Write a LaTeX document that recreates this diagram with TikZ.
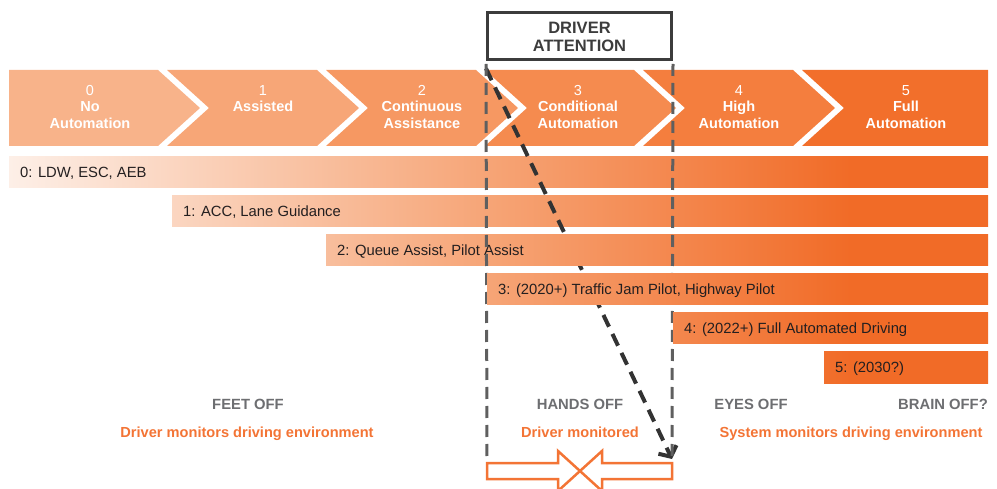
\documentclass[tikz,border=0pt]{standalone}
\usepackage{fontspec}
\setmainfont{Liberation Sans}
\usetikzlibrary{arrows.meta,positioning}

\definecolor{chevA}{HTML}{F8B38A}
\definecolor{chevB}{HTML}{F7A677}
\definecolor{chevC}{HTML}{F69862}
\definecolor{chevD}{HTML}{F58B4F}
\definecolor{chevE}{HTML}{F47E3E}
\definecolor{chevF}{HTML}{F26F2B}
\definecolor{fadeA}{HTML}{FDEFE7}
\definecolor{fadeB}{HTML}{F6A374}
\definecolor{fadeC}{HTML}{F16B27}
\definecolor{inkdark}{HTML}{231F20}
\definecolor{graytxt}{HTML}{6D6E71}
\definecolor{orangetxt}{HTML}{F37435}
\definecolor{boxgray}{HTML}{3C3C3C}
\definecolor{guidegray}{HTML}{5F5F5F}
\definecolor{sweepgray}{HTML}{333333}

\pgfdeclarehorizontalshading{barfade}{100bp}{color(0bp)=(fadeA); color(25bp)=(fadeA); color(50bp)=(fadeB); color(68bp)=(fadeC); color(100bp)=(fadeC)}

% one feature bar, shaded on the common left-to-right ramp
\newcommand{\levelbar}[4]{%
  \begin{scope}
    \clip (#2,#3) rectangle (988,#3+31);
    \shade[shading=barfade] (9,157) rectangle (988,383);
  \end{scope}
  \node[barlabel] (#1) at (#2+11,#3+21) {#4};
}

\begin{document}
\begin{tikzpicture}[
  x=1pt, y=-1pt,
  chevtext/.style={text=white, align=center, anchor=north, inner sep=0pt, font=\fontsize{14.5}{16.5}\selectfont},
  barlabel/.style={anchor=base west, inner sep=0pt, text=inkdark, font=\fontsize{14.8}{17}\selectfont},
  headline/.style={anchor=base, inner sep=0pt, text=graytxt, font=\bfseries\fontsize{14.8}{17}\selectfont},
  subline/.style={anchor=base, inner sep=0pt, text=orangetxt, font=\bfseries\fontsize{14.6}{17}\selectfont},
  guide/.style={draw=guidegray, line width=3pt, dash pattern=on 12pt off 7pt},
  sweep/.style={draw=sweepgray, line width=4pt, dash pattern=on 13pt off 8pt, -{Straight Barb[length=8pt,width=20pt]}},
  blockarrow/.style={draw=orangetxt, line width=2.5pt, fill=white, line join=miter}
]
  \clip (0,0) rectangle (997,489);

  % automation levels
  \fill[chevA] (9,70) -- (158,70) -- (200,108) -- (158,146) -- (9,146) -- cycle;
  \fill[chevB] (167,70) -- (317,70) -- (359,108) -- (317,146) -- (167,146) -- (209,108) -- cycle;
  \fill[chevC] (326,70) -- (476,70) -- (518,108) -- (476,146) -- (326,146) -- (368,108) -- cycle;
  \fill[chevD] (485,70) -- (634,70) -- (676,108) -- (634,146) -- (485,146) -- (527,108) -- cycle;
  \fill[chevE] (643,70) -- (793,70) -- (835,108) -- (793,146) -- (643,146) -- (685,108) -- cycle;
  \fill[chevF] (802,70) -- (988,70) -- (988,146) -- (802,146) -- (844,108) -- cycle;

  \node[chevtext] (lvl0) at (90,85) {0\\\textbf{No}\\\textbf{Automation}};
  \node[chevtext] (lvl1) at (263,85) {1\\\textbf{Assisted}};
  \node[chevtext] (lvl2) at (422,85) {2\\\textbf{Continuous}\\\textbf{Assistance}};
  \node[chevtext] (lvl3) at (578,85) {3\\\textbf{Conditional}\\\textbf{Automation}};
  \node[chevtext] (lvl4) at (739,85) {4\\\textbf{High}\\\textbf{Automation}};
  \node[chevtext] (lvl5) at (906,85) {5\\\textbf{Full}\\\textbf{Automation}};

  \node[draw=boxgray, line width=3pt, minimum width=184pt, minimum height=47pt, inner sep=0pt,
        align=center, text=boxgray, font=\bfseries\fontsize{16.5}{18}\selectfont] (attention) at (579.5,36.5) {DRIVER\\ATTENTION};

  \coordinate (leftend) at (487,461);
  \coordinate (rightend) at (672,461);
  \coordinate (sweepend) at (672,459);

  % feature bars
  \levelbar{bar0}{9}{157}{0: LDW, ESC, AEB}
  \levelbar{bar1}{172}{196}{1: ACC, Lane Guidance}
  \draw[sweep] ([yshift=-7pt]attention.south west) -- (sweepend);
  \levelbar{bar2}{326}{235}{2: Queue Assist, Pilot Assist}
  \draw[guide] ([yshift=-2.5pt]attention.south west) -- (leftend);
  \draw[guide] ([yshift=-2.5pt]attention.south east) -- (rightend);
  \levelbar{bar3}{487}{274}{3: (2020+) Traffic Jam Pilot, Highway Pilot}
  \levelbar{bar4}{673}{313}{4: (2022+) Full Automated Driving}
  \levelbar{bar5}{824}{352}{5: (2030?)}

  % what the driver may let go of
  \node[headline] (feet) at (248,409) {FEET OFF};
  \node[subline] (drvenv) at (247,437) {Driver monitors driving environment};
  \node[headline] (hands) at (580,409) {HANDS OFF};
  \node[subline] (drvmon) at (580,437) {Driver monitored};
  \node[headline] (eyes) at (751,409) {EYES OFF};
  \node[headline, anchor=base east] (brain) at (988,409) {BRAIN OFF?};
  \node[subline] (sysenv) at (851,437) {System monitors driving environment};

  \draw[blockarrow] (487,463) -- (558,463) -- (558,451) -- (580,471) -- (558,491) -- (558,479) -- (487,479) -- cycle;
  \draw[blockarrow] (672,463) -- (602,463) -- (602,451) -- (580,471) -- (602,491) -- (602,479) -- (672,479) -- cycle;
\end{tikzpicture}
\end{document}
